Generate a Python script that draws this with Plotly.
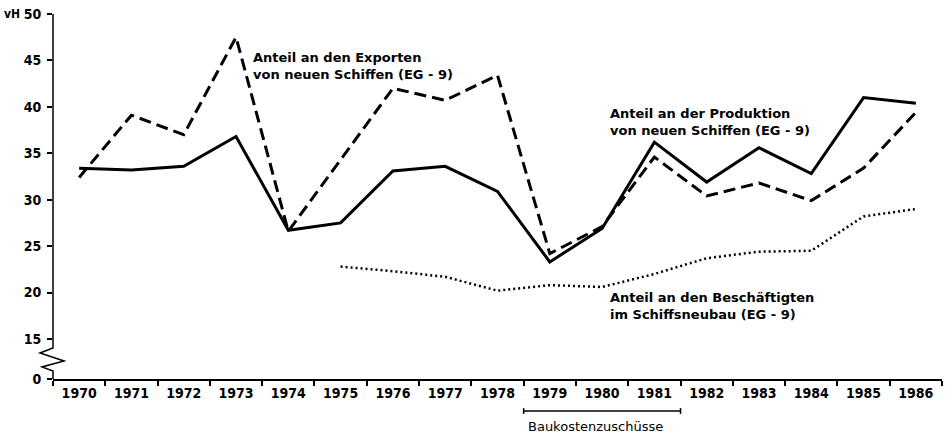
import plotly.graph_objects as go

# ---------------- data ----------------
YEARS = list(range(1970, 1987))
PRODUKTION = [33.4, 33.2, 33.6, 36.8, 26.7, 27.5, 33.1, 33.6, 30.9, 23.3, 26.9,
              36.2, 31.9, 35.6, 32.8, 41.0, 40.4]
EXPORTE = [32.4, 39.1, 37.0, 47.5, 26.6, 34.3, 42.0, 40.7, 43.4, 24.2, 27.1,
           34.6, 30.4, 31.8, 29.9, 33.4, 39.4]
BESCH_YEARS = list(range(1975, 1987))
BESCHAEFTIGTE = [22.8, 22.3, 21.7, 20.2, 20.8, 20.6, 22.0, 23.7, 24.4, 24.5, 28.2, 29.0]

YTICK_LABELS = ["0", "15", "20", "25", "30", "35", "40", "45", "50"]
YTICK_VALUES = [15, 20, 25, 30, 35, 40, 45, 50]
BRACKET_YEARS = (1979, 1981)

LABEL_EXPORT = "Anteil an den Exporten<br>von neuen Schiffen (EG - 9)"
LABEL_PROD = "Anteil an der Produktion<br>von neuen Schiffen (EG - 9)"
LABEL_BESCH = "Anteil an den Beschäftigten<br>im Schiffsneubau (EG - 9)"
LABEL_BRACKET = "Baukostenzuschüsse"

# ---------------- style ----------------
FONT = "DejaVu Sans, Liberation Sans, Arial, sans-serif"
TICKFONT = "Liberation Sans Narrow, Arial Narrow, DejaVu Sans Condensed, sans-serif"
BREAK_BASE = 10.69          # axis position where the broken axis shows "0"
Y_TOP = 50

fig = go.Figure()
fig.add_trace(go.Scatter(x=YEARS, y=EXPORTE, mode="lines",
                         line=dict(color="black", width=3, dash="12px,6px")))
fig.add_trace(go.Scatter(x=YEARS, y=PRODUKTION, mode="lines",
                         line=dict(color="black", width=3)))
fig.add_trace(go.Scatter(x=BESCH_YEARS, y=BESCHAEFTIGTE, mode="lines",
                         line=dict(color="black", width=2.5, dash="2px,3px")))

tickvals = [BREAK_BASE] + YTICK_VALUES

fig.update_layout(
    width=947, height=433,
    margin=dict(l=53, r=5, t=14, b=54),
    paper_bgcolor="white", plot_bgcolor="white",
    showlegend=False,
    font=dict(family=FONT, size=12, color="black"),
    xaxis=dict(
        range=[YEARS[0] - 0.5, YEARS[-1] + 0.5],
        tickvals=YEARS, ticktext=[f"<b>{y}</b>" for y in YEARS],
        ticks="", showgrid=False, zeroline=False,
        showline=True, linecolor="black", linewidth=1.5,
        ticklabelstandoff=0,
        tickfont=dict(family=TICKFONT, size=14, color="black"),
        minor=dict(tick0=YEARS[0] - 0.5, dtick=1, ticks="outside", ticklen=5,
                   tickwidth=1.5, tickcolor="black", showgrid=False),
    ),
    yaxis=dict(
        range=[BREAK_BASE, Y_TOP],
        tickvals=tickvals, ticktext=[f"<b>{t}</b>" for t in YTICK_LABELS],
        ticks="outside", ticklen=5, tickwidth=1.5, tickcolor="black",
        showgrid=False, zeroline=False, showline=False,
        ticklabelstandoff=3,
        tickfont=dict(family=TICKFONT, size=14, color="black"),
    ),
)

# broken y axis with zigzag
zig = [(0, BREAK_BASE), (0, 11.55), (-0.0124, 11.99), (0.0124, 12.63),
       (-0.0146, 13.49), (0, 14.03), (0, Y_TOP)]
path = "M " + " L ".join(f"{px},{py}" for px, py in zig)
fig.add_shape(type="path", path=path, xref="paper", yref="y",
              line=dict(color="black", width=1.5))

# series labels
ann = dict(showarrow=False, xanchor="left", yanchor="middle", align="left",
           font=dict(family=FONT, size=13, color="black"))
fig.add_annotation(x=1973.28, y=44.4, text=f"<b>{LABEL_EXPORT}</b>", **ann)
fig.add_annotation(x=1980.11, y=38.4, text=f"<b>{LABEL_PROD}</b>", **ann)
fig.add_annotation(x=1980.11, y=18.6, text=f"<b>{LABEL_BESCH}</b>", **ann)

# "vH" unit label
fig.add_annotation(x=-0.0349, y=Y_TOP, xref="paper", yref="y", text="<b>vH</b>",
                   showarrow=False, xanchor="right", yanchor="middle",
                   font=dict(family=TICKFONT, size=12, color="black"))

# subsidy bracket below axis
bx0 = BRACKET_YEARS[0] - 0.5
bx1 = BRACKET_YEARS[1] + 0.5
by = -0.0877
fig.add_shape(type="line", x0=bx0, x1=bx1, y0=by, y1=by, xref="x", yref="paper",
              line=dict(color="black", width=1.5))
for bx in (bx0, bx1):
    fig.add_shape(type="line", x0=bx, x1=bx, y0=by - 0.008, y1=by + 0.008,
                  xref="x", yref="paper", line=dict(color="black", width=1.5))
fig.add_annotation(x=bx0 + 0.05, y=-0.129, xref="x", yref="paper",
                   text=LABEL_BRACKET, showarrow=False, xanchor="left",
                   yanchor="middle", font=dict(family=FONT, size=13, color="black"))

fig.write_html("out.html", config={"displayModeBar": False},
               post_script="document.body.style.margin='0';")
